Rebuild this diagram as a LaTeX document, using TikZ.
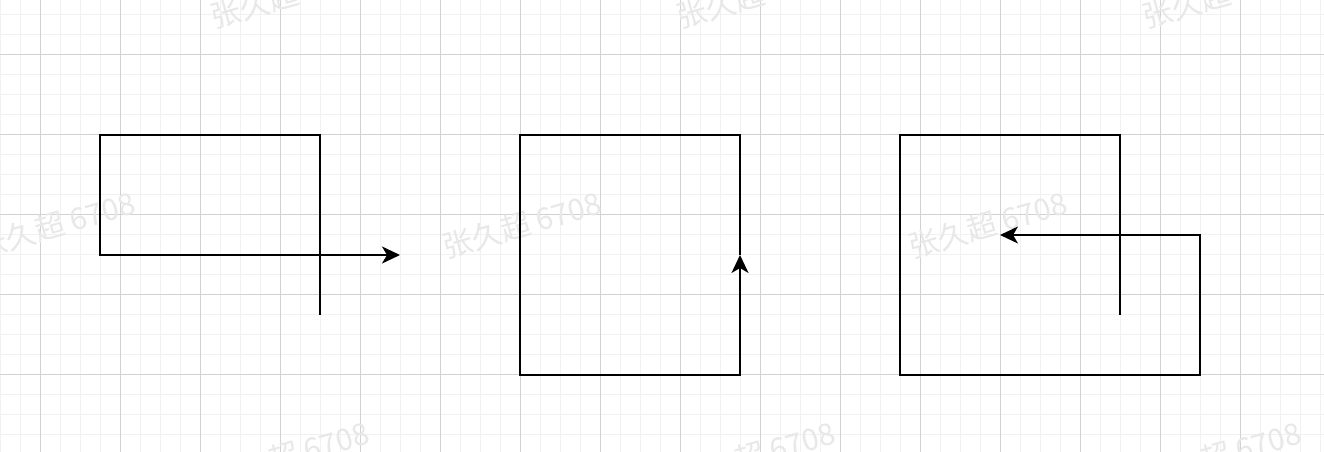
\documentclass[tikz,border=0pt]{standalone}
\usepackage{fontspec}
\usepackage{tikz}
\usetikzlibrary{arrows.meta}
\newfontfamily\cjk{Noto Sans CJK SC}
\definecolor{gridminor}{RGB}{240, 242, 242}
\definecolor{gridmajor}{RGB}{208, 210, 210}
\definecolor{markcolor}{RGB}{232, 232, 232}

\begin{document}
\begin{tikzpicture}[
    x=1pt, y=-1pt,
    minorline/.style={gridminor, line width=1pt},
    majorline/.style={gridmajor, line width=1pt},
    pathline/.style={black, line width=2pt, line join=miter},
    pathtip/.style={-{Stealth[length=18pt, width=17pt, inset=5pt]}},
    watermark/.style={font=\cjk\fontsize{30}{30}\selectfont, text=markcolor, rotate=16}
]
\useasboundingbox (0,0) rectangle (1324,452);
\fill[white] (0,0) rectangle (1324,452);

% Grid
\foreach \gx in {0.5,20.5,...,1320.5} \draw[minorline] (\gx,0) -- (\gx,452);
\foreach \gy in {14.5,34.5,...,450} \draw[minorline] (0,\gy) -- (1324,\gy);
\foreach \gx in {40.5,120.5,...,1320} \draw[majorline] (\gx,0) -- (\gx,452);
\foreach \gy in {54.5,134.5,...,450} \draw[majorline] (0,\gy) -- (1324,\gy);

% Watermarks
\foreach \wx in {290,756,1222} \node[watermark] at (\wx,-5) {张久超 6708};
\foreach \wx in {56,522,988} \node[watermark] at (\wx,225) {张久超 6708};
\foreach \wx in {290,756,1222} \node[watermark] at (\wx,455) {张久超 6708};

% Left path
\draw[pathline, pathtip] (320,315) -- (320,135) -- (100,135) -- (100,255) -- (400,255);

% Middle path
\draw[pathline, pathtip] (740,255) -- (740,135) -- (520,135) -- (520,375) -- (740,375) -- (740,255);

% Right path
\draw[pathline, pathtip] (1120,315) -- (1120,135) -- (900,135) -- (900,375)
    -- (1200,375) -- (1200,235) -- (1000,235);

\end{tikzpicture}
\end{document}
